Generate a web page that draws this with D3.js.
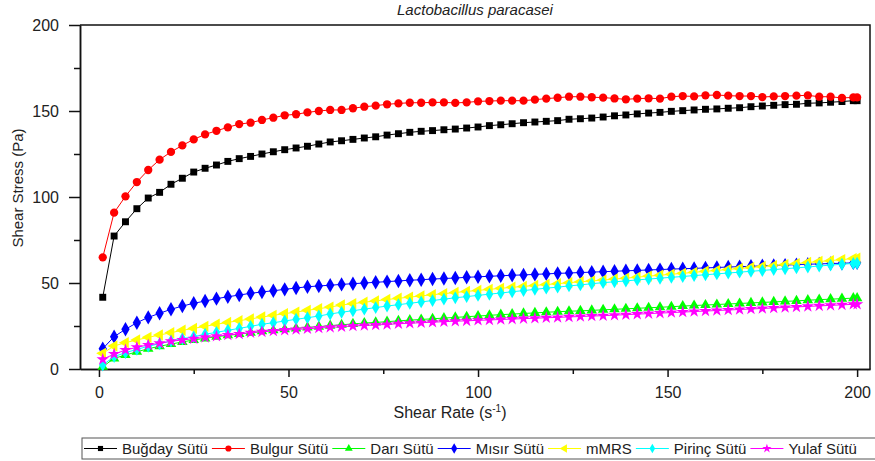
<!DOCTYPE html>
<html>
<head>
<meta charset="utf-8">
<script src="https://cdnjs.cloudflare.com/ajax/libs/d3/7.8.5/d3.min.js"></script>
<style>
  body { margin: 0; background: #fff; }
  text { font-family: Arial, "Liberation Sans", sans-serif; fill: #222; }
</style>
</head>
<body>
<div id="chart"></div>
<script>
// shear rate values (s-1)
var shearRate = [1,4,7,10,13,16,19,22,25,28,31,34,37,40,43,46,49,52,55,58,61,64,67,70,73,76,79,82,85,88,91,94,97,100,103,106,109,112,115,118,121,124,127,130,133,136,139,142,145,148,151,154,157,160,163,166,169,172,175,178,181,184,187,190,193,196,199,200];

// shear stress (Pa) per sample
var bugday = [41.7,77.3,85.6,93.2,99.4,102.7,107.4,110.9,114.5,116.7,
  118.6,120.7,122.3,123.6,125.0,126.3,127.5,128.5,129.5,130.8,
  132.0,132.7,133.5,134.3,135.0,136.0,136.8,137.6,138.2,138.6,
  139.1,139.5,140.1,140.7,141.5,142.0,142.6,143.2,143.6,144.0,
  144.4,145.2,145.5,145.9,146.5,147.2,147.7,148.3,148.8,149.2,
  149.8,150.2,150.6,151.0,151.2,151.6,151.9,152.5,152.9,153.3,
  153.7,153.9,154.5,154.7,155.1,155.5,156.0,156.0];
var bulgur = [64.9,90.9,100.4,108.7,115.7,121.7,126.2,130.0,133.5,136.4,
  138.5,140.5,142.4,143.2,144.8,146.1,147.5,148.1,149.2,150.0,
  150.6,150.6,151.6,152.5,153.1,153.9,154.4,154.8,154.8,155.0,
  155.0,154.7,155.0,155.6,155.8,156.0,156.0,156.0,156.6,157.2,
  157.7,158.3,158.3,158.0,157.8,157.3,156.8,157.2,157.4,157.2,
  158.3,158.7,158.5,159.1,159.3,158.9,158.7,158.7,158.1,158.5,
  158.7,158.9,159.1,158.3,158.3,157.6,157.9,157.9];
var dari = [1.3,6.2,8.1,10.0,11.8,13.2,14.5,15.7,16.9,17.8,
  18.8,19.6,20.3,21.1,21.9,22.5,23.1,23.6,24.2,24.6,
  25.2,25.7,26.2,26.7,27.1,27.5,28.0,28.4,28.8,29.2,
  29.6,30.0,30.4,30.8,31.2,31.6,31.9,32.3,32.6,33.0,
  33.3,33.6,33.8,34.1,34.4,34.7,35.0,35.3,35.6,35.9,
  36.2,36.6,36.9,37.2,37.5,37.8,38.1,38.4,38.7,39.0,
  39.3,39.6,40.0,40.3,40.6,40.9,41.2,41.2];
var misir = [11.8,18.8,23.1,26.9,30.0,32.4,34.7,36.6,38.2,39.5,
  40.9,42.0,43.0,44.0,44.8,45.5,46.3,47.1,47.8,48.3,
  48.7,49.2,49.6,50.0,50.4,50.8,51.2,51.6,51.9,52.3,
  52.6,52.9,53.3,53.6,53.9,54.2,54.5,54.7,55.0,55.3,
  55.6,55.8,56.1,56.3,56.6,56.8,57.1,57.3,57.6,57.8,
  58.1,58.3,58.5,58.8,59.0,59.3,59.5,59.7,60.0,60.2,
  60.4,60.7,60.9,61.1,61.3,61.5,61.7,61.8];
var mmrs = [9.1,13.4,15.3,16.9,18.4,19.8,21.1,22.5,23.6,24.8,
  26.0,27.1,28.1,29.1,30.2,31.2,32.2,33.1,34.1,35.1,
  36.0,37.2,38.0,38.8,39.6,40.4,41.1,41.8,42.5,43.2,
  43.8,44.5,45.1,45.7,46.3,46.9,47.5,48.0,48.6,49.1,
  49.6,50.2,50.7,51.2,51.7,52.3,52.8,53.4,54.0,54.5,
  55.1,55.6,56.2,56.8,57.3,57.9,58.4,59.0,59.6,60.1,
  60.7,61.3,61.9,62.5,63.0,63.6,64.2,64.4];
var pirinc = [2.3,7.2,9.5,11.4,13.2,14.7,16.3,17.6,18.8,20.2,
  21.3,22.5,23.6,24.8,26.0,26.9,27.9,28.9,29.8,30.8,
  32.0,33.0,33.9,34.8,35.7,36.6,37.4,38.2,39.0,39.8,
  40.6,41.4,42.1,42.8,43.5,44.2,44.9,45.6,46.3,47.0,
  47.6,48.3,48.9,49.6,50.2,50.7,51.2,51.8,52.3,52.8,
  53.3,53.8,54.3,54.8,55.3,55.8,56.3,56.8,57.3,57.8,
  58.3,58.8,59.3,59.9,60.4,60.9,61.4,61.5];
var yulaf = [5.6,8.7,11.0,12.6,14.0,14.9,16.1,16.9,17.6,18.4,
  19.0,19.8,20.3,21.1,21.6,22.1,22.6,23.0,23.4,23.8,
  24.2,24.6,25.0,25.3,25.6,25.9,26.3,26.6,26.9,27.2,
  27.5,27.8,28.0,28.3,28.5,28.8,29.0,29.3,29.5,29.8,
  30.0,30.3,30.5,30.8,31.0,31.3,31.6,31.9,32.2,32.5,
  32.8,33.1,33.4,33.7,34.0,34.3,34.6,34.9,35.2,35.5,
  35.8,36.1,36.4,36.7,37.0,37.3,37.6,37.7];

var seriesNames = ["Buğday Sütü", "Bulgur Sütü", "Darı Sütü", "Mısır Sütü", "mMRS", "Pirinç Sütü", "Yulaf Sütü"];
var seriesValues = [bugday, bulgur, dari, misir, mmrs, pirinc, yulaf];

var xTicks = [0, 50, 100, 150, 200];
var xMinor = [25, 75, 125, 175];
var yTicks = [0, 50, 100, 150, 200];
var yMinor = [25, 75, 125, 175];

// styles for each series: colour, symbol, size, rotation
var colors = ["#000000", "#ff0000", "#00ff00", "#0000ff", "#ffff00", "#00ffff", "#ff00ff"];
var symbols = [d3.symbolSquare, d3.symbolCircle, d3.symbolTriangle, d3.symbolDiamond, d3.symbolTriangle, d3.symbolDiamond, d3.symbolStar];
var symSizes = [48, 54, 48, 60, 56, 48, 48];
var symRotate = [0, 0, 0, 0, -90, 0, 0];

var svgWidth = 875;
var svgHeight = 461;

// plot box
var plot = { left: 80, right: 870, top: 25, bottom: 369 };

var svg = d3.select("#chart")
  .append("svg")
  .attr("width", svgWidth)
  .attr("height", svgHeight);

var xScale = d3.scaleLinear()
  .domain([-5, 203.4])
  .range([plot.left, plot.right]);

var yScale = d3.scaleLinear()
  .domain([0, 200])
  .range([plot.bottom, plot.top]);

// frame top and right
svg.append("path")
  .attr("d", "M" + plot.left + "," + plot.top + "H" + plot.right + "V" + plot.bottom)
  .attr("fill", "none")
  .attr("stroke", "#111")
  .attr("stroke-width", 1.5);

// x axis, major + minor
var xAxisG = svg.append("g")
  .attr("transform", "translate(0," + plot.bottom + ")");
xAxisG.append("g")
  .call(d3.axisBottom(xScale).tickValues(xMinor).tickSize(5).tickSizeOuter(0).tickFormat(""));
xAxisG.append("g")
  .call(d3.axisBottom(xScale).tickValues(xTicks).tickSize(8).tickSizeOuter(0).tickPadding(10));

// y axis, major + minor
var yAxisG = svg.append("g")
  .attr("transform", "translate(" + plot.left + ",0)");
yAxisG.append("g")
  .call(d3.axisLeft(yScale).tickValues(yMinor).tickSize(6).tickSizeOuter(0).tickFormat(""));
yAxisG.append("g")
  .call(d3.axisLeft(yScale).tickValues(yTicks).tickSize(11).tickSizeOuter(0).tickPadding(10));

svg.selectAll(".domain, .tick line")
  .attr("stroke", "#111")
  .attr("stroke-width", 1.5);
svg.selectAll(".tick text")
  .style("font-size", "16px")
  .style("fill", "#222");

// axis titles
var xTitle = svg.append("text")
  .attr("x", 450)
  .attr("y", 418)
  .attr("text-anchor", "middle")
  .style("font-size", "16px");
xTitle.append("tspan").text("Shear Rate (s");
xTitle.append("tspan").attr("dy", -6).style("font-size", "10px").text("-1");
xTitle.append("tspan").attr("dy", 6).text(")");

svg.append("text")
  .attr("transform", "translate(17,188) rotate(-90)")
  .attr("text-anchor", "middle")
  .attr("dominant-baseline", "central")
  .style("font-family", "'Liberation Sans Narrow', 'Arial Narrow', Arial, sans-serif")
  .style("font-size", "15px")
  .text("Shear Stress (Pa)");

// title
svg.append("text")
  .attr("x", 475)
  .attr("y", 15)
  .attr("text-anchor", "middle")
  .style("font-size", "15px")
  .style("font-style", "italic")
  .text("Lactobacillus paracasei");

// series lines and markers
var line = d3.line()
  .x(function(d) { return xScale(d[0]); })
  .y(function(d) { return yScale(d[1]); });

var chartGroup = svg.append("g");

seriesValues.forEach(function(vals, k) {
  var pts = shearRate.map(function(x, i) { return [x, vals[i]]; });
  var g = chartGroup.append("g");
  g.append("path")
    .datum(pts)
    .attr("d", line)
    .attr("fill", "none")
    .attr("stroke", colors[k])
    .attr("stroke-width", 1);
  g.selectAll("path.pt")
    .data(pts)
    .enter()
    .append("path")
    .attr("class", "pt")
    .attr("d", d3.symbol().type(symbols[k]).size(symSizes[k]))
    .attr("transform", function(d) {
      return "translate(" + xScale(d[0]) + "," + yScale(d[1]) + ") rotate(" + symRotate[k] + ")";
    })
    .attr("fill", colors[k]);
});

// legend
var legend = svg.append("g");
legend.append("rect")
  .attr("x", 82)
  .attr("y", 438)
  .attr("width", 800)
  .attr("height", 21)
  .attr("fill", "none")
  .attr("stroke", "#555")
  .attr("stroke-width", 1);

var lx = 84;
seriesNames.forEach(function(name, k) {
  var item = legend.append("g");
  item.append("line")
    .attr("x1", lx).attr("x2", lx + 33)
    .attr("y1", 448.5).attr("y2", 448.5)
    .attr("stroke", colors[k])
    .attr("stroke-width", 1);
  item.append("path")
    .attr("d", d3.symbol().type(symbols[k]).size(symSizes[k] * 0.55))
    .attr("transform", "translate(" + (lx + 16.5) + ",448.5) rotate(" + symRotate[k] + ")")
    .attr("fill", colors[k]);
  var t = item.append("text")
    .attr("x", lx + 38)
    .attr("y", 454)
    .style("font-size", "15px")
    .text(name);
  lx = lx + 38 + t.node().getComputedTextLength() + 4;
});
</script>
</body>
</html>
